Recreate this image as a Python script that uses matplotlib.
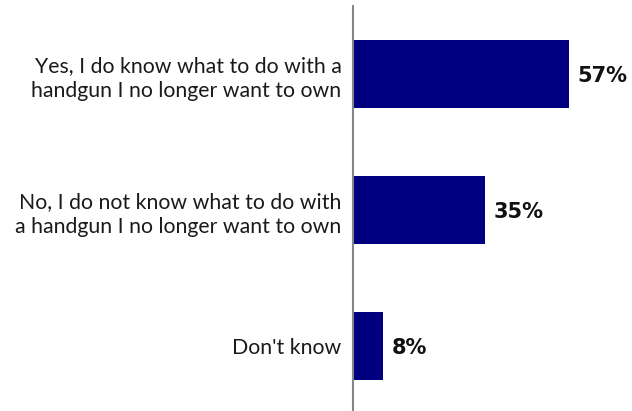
import matplotlib
matplotlib.use("Agg")
import matplotlib.pyplot as plt

categories = [
    "Yes, I do know what to do with a\nhandgun I no longer want to own",
    "No, I do not know what to do with\na handgun I no longer want to own",
    "Don't know",
]
values = [57, 35, 8]

bar_color = "#000080"

fig = plt.figure(figsize=(6.32, 4.11), dpi=100)
ax = fig.add_axes([352.7 / 632, 0.0, 1 - 352.7 / 632, 1 - 6 / 411])

positions = list(range(len(categories)))
ax.barh(positions, values, height=0.5, color=bar_color)

ax.set_xlim(0, (632 - 352.7) / 3.79)
ax.set_ylim(2.48, -0.50)

ax.set_yticks(positions)
ax.set_yticklabels(categories, fontfamily="Lato", fontsize=15.3, color="#1a1a1a",
                   linespacing=1.3)
ax.tick_params(axis="y", length=0, pad=8)
ax.set_xticks([])

for side in ("top", "right", "bottom"):
    ax.spines[side].set_visible(False)
ax.spines["left"].set_color("#868686")
ax.spines["left"].set_linewidth(1.5)

for pos, val in zip(positions, values):
    ax.annotate(f"{val}%", xy=(val, pos), xytext=(6, -1.5), textcoords="offset points",
                va="center", ha="left", fontsize=15, fontweight="bold",
                fontfamily="DejaVu Sans", color="#111111")

fig.savefig("out.png", dpi=100)
